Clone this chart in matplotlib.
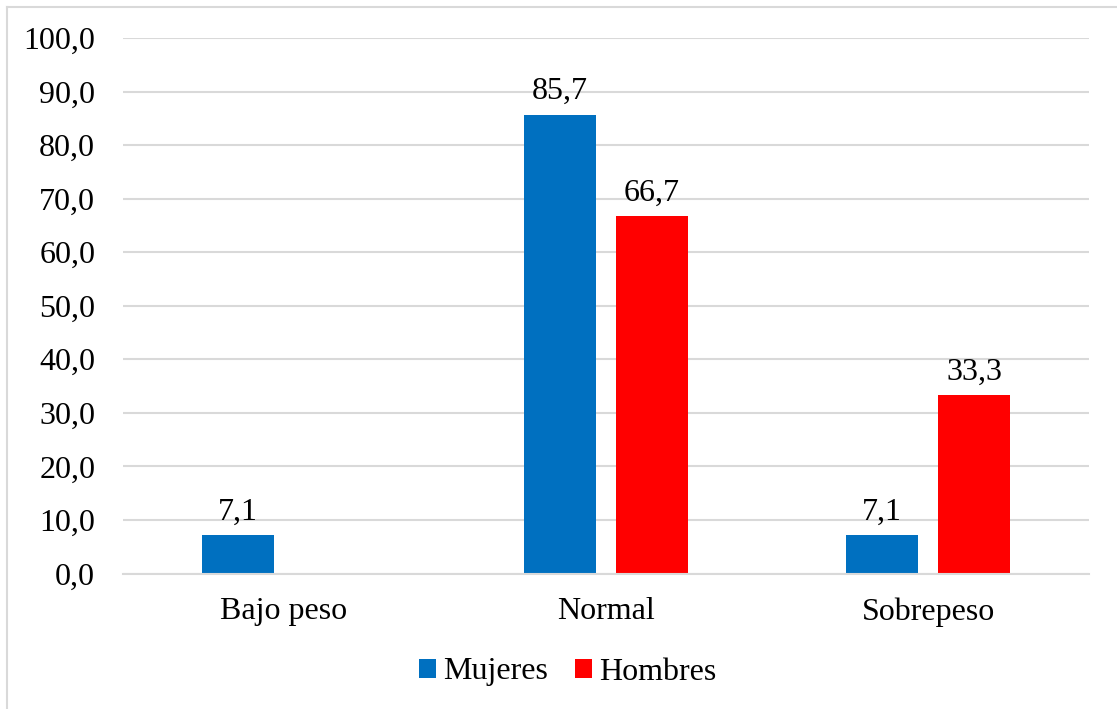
import matplotlib
matplotlib.use("Agg")
import matplotlib.pyplot as plt
from matplotlib.patches import Patch
from matplotlib.lines import Line2D
import numpy as np

categories = ["Bajo peso", "Normal", "Sobrepeso"]
mujeres = [7.1, 85.7, 7.1]
hombres = [0.0, 66.7, 33.3]
mujeres_labels = ["7,1", "85,7", "7,1"]
hombres_labels = [None, "66,7", "33,3"]
yticks = [0, 10, 20, 30, 40, 50, 60, 70, 80, 90, 100]
ytick_labels = ["0,0", "10,0", "20,0", "30,0", "40,0", "50,0", "60,0",
                "70,0", "80,0", "90,0", "100,0"]

blue = "#0070C0"
red = "#FF0000"
grid = "#D9D9D9"

plt.rcParams["font.family"] = ["Liberation Serif", "DejaVu Serif"]
FS = 23

W, H = 1117, 709
fig = plt.figure(figsize=(W / 100, H / 100), dpi=100)

# axes placed in pixel terms
left, right, top, bottom = 123, 1089, 38, 573.5
ax = fig.add_axes([left / W, 1 - bottom / H, (right - left) / W, (bottom - top) / H])

x = np.arange(len(categories))
bw = 0.2236
off = 0.143
ax.bar(x - off, mujeres, width=bw, color=blue, zorder=3)
ax.bar(x + off, hombres, width=bw, color=red, zorder=3)

for xi, v, lab in zip(x, mujeres, mujeres_labels):
    if lab:
        ax.annotate(lab, (xi - off, v), xytext=(0, 6), textcoords="offset points",
                    ha="center", va="bottom", fontsize=FS)
for xi, v, lab in zip(x, hombres, hombres_labels):
    if lab:
        ax.annotate(lab, (xi + off, v), xytext=(0, 6), textcoords="offset points",
                    ha="center", va="bottom", fontsize=FS)

ax.set_xlim(-0.5, 2.5)
ax.set_ylim(0, 100)
ax.set_yticks(yticks)
ax.set_yticklabels(ytick_labels, fontsize=FS)
ax.set_xticks(x)
ax.set_xticklabels(categories, fontsize=FS)
ax.tick_params(axis="y", length=0, pad=20)
ax.tick_params(axis="x", length=0, pad=17)
ax.yaxis.grid(True, color=grid, linewidth=1.5, zorder=0)
for s in ["top", "right", "left"]:
    ax.spines[s].set_visible(False)
ax.spines["bottom"].set_color(grid)
ax.spines["bottom"].set_linewidth(1.5)
ax.spines["bottom"].set_zorder(4)

handles = [Patch(facecolor=blue, label="Mujeres"), Patch(facecolor=red, label="Hombres")]
fig.legend(handles=handles, loc="center", bbox_to_anchor=(567.5 / W, 1 - 672 / H),
           ncol=2, frameon=False, fontsize=FS, handlelength=0.55, handleheight=0.55,
           handletextpad=0.2, columnspacing=0.85, borderpad=0, borderaxespad=0)

# chart area outline
fig.add_artist(Line2D([7 / W, 7 / W], [0, 1 - 7 / H], transform=fig.transFigure,
                      color=grid, linewidth=1.5))
fig.add_artist(Line2D([7 / W, 1], [1 - 7 / H, 1 - 7 / H], transform=fig.transFigure,
                      color=grid, linewidth=1.5))

fig.savefig("out.png", dpi=100, facecolor="white")
